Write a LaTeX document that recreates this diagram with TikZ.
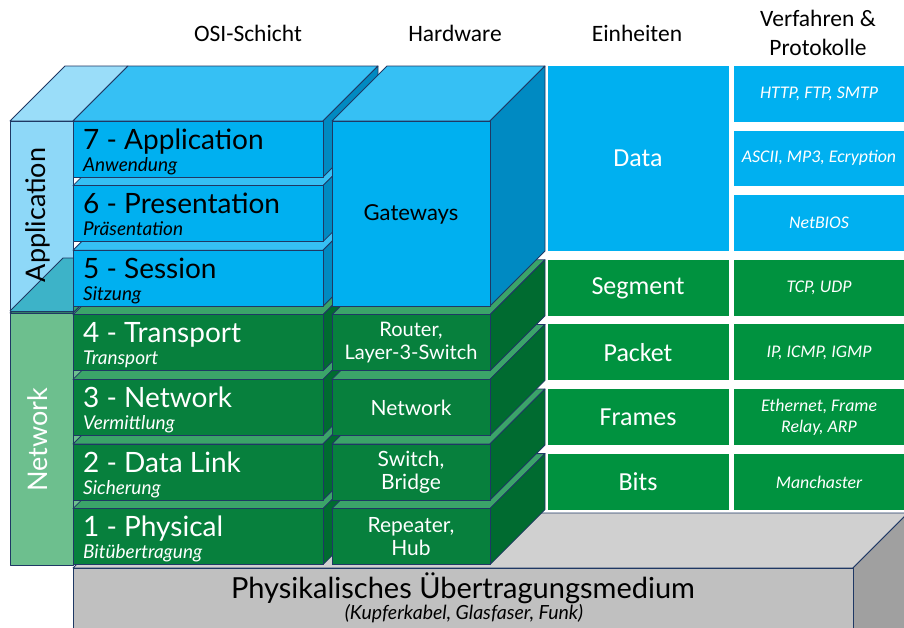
\documentclass[tikz,border=0pt]{standalone}
\usepackage{fontspec}
\setmainfont{Lato}
\newfontfamily\latofont{Lato}
\newfontfamily\carlfont{Carlito}

\definecolor{edge}{HTML}{1F3864}
\definecolor{blueF}{HTML}{00B0F0}
\definecolor{blueT}{HTML}{36C0F4}
\definecolor{blueS}{HTML}{008AC2}
\definecolor{appF}{HTML}{8ED8F8}
\definecolor{appT}{HTML}{9ADDF9}
\definecolor{teal}{HTML}{3DB3C8}
\definecolor{greenF}{HTML}{07803D}
\definecolor{greenT}{HTML}{3BA469}
\definecolor{greenS}{HTML}{006B30}
\definecolor{greenR}{HTML}{00923F}
\definecolor{netF}{HTML}{6DBF8E}
\definecolor{grayF}{HTML}{C0C0C0}
\definecolor{grayT}{HTML}{D0D0D0}
\definecolor{grayS}{HTML}{A0A0A0}

% a box seen from the front: front face, top face and right side face
% #1 left x, #2 top y, #3 width, #4 height, #5 front, #6 top, #7 side colour
\newcommand\drawslab[7]{%
  \filldraw[face, fill=#6] (#1,#2) -- ++(55,-55) -- ++(#3,0) -- ++(-55,55) -- cycle;
  \filldraw[face, fill=#7] (#1+#3,#2) -- ++(55,-55) -- ++(0,#4) -- ++(-55,55) -- cycle;
  \filldraw[face, fill=#5] (#1,#2) rectangle ++(#3,#4);
}

\tikzset{
  face/.style={draw=edge, line width=0.8pt, line join=round},
  header/.style={font=\carlfont\fontsize{23.5}{25}\selectfont, text=black},
  unit/.style={font=\carlfont\fontsize{26}{28}\selectfont, text=white},
  proto/.style={font=\carlfont\itshape\fontsize{17.8}{20}\selectfont, text=white, align=center},
  layername/.style={anchor=base west, inner sep=0pt, font=\latofont\fontsize{28}{30}\selectfont},
  layersub/.style={anchor=base west, inner sep=0pt, font=\latofont\itshape\fontsize{19}{21}\selectfont},
  hw/.style={align=center, inner sep=0pt, font=\latofont\fontsize{21}{23}\selectfont},
  group/.style={rotate=90, inner sep=0pt, font=\latofont\fontsize{27}{29}\selectfont},
}

\begin{document}
\begin{tikzpicture}[x=1pt, y=-1pt]
\useasboundingbox (0,0) rectangle (904,627);
\clip (0,0) rectangle (904,627);
\fill[white] (0,0) rectangle (904,627);

% flat columns: units and protocols
\fill[blueF] (548,66) rectangle (729,251);
\fill[blueF] (734,66) rectangle (910,121.6);
\fill[blueF] (734,130.6) rectangle (910,186.2);
\fill[blueF] (734,195.2) rectangle (910,251);
\foreach \t in {314.8,379.4,444,508.6}{
  \fill[greenR] (548,\t-55) rectangle (729,\t+1);
  \fill[greenR] (734,\t-55) rectangle (910,\t+1);
}

% transmission medium
\drawslab{73}{568}{780}{120}{grayF}{grayT}{grayS}

% grouping boxes on the left
\drawslab{10}{313}{63}{252}{netF}{greenT}{netF}
\filldraw[face, fill=appT] (10,121) -- ++(55,-55) -- ++(63,0) -- ++(-55,55) -- cycle;
\filldraw[face, fill=appF] (10,121) rectangle (73,311);
\fill[teal] (10,311) -- (63,258) -- (73,258) -- (73,311) -- cycle;
\draw[face] (10,311) -- (63,258) -- (73,258);
\draw[face] (10,121) rectangle (73,311);

% OSI layers, bottom to top
\drawslab{73}{508.6}{250}{56}{greenF}{greenT}{greenS}
\drawslab{73}{444}{250}{56}{greenF}{greenT}{greenS}
\drawslab{73}{379.4}{250}{56}{greenF}{greenT}{greenS}
\drawslab{73}{314.8}{250}{56}{greenF}{greenT}{greenS}
\drawslab{73}{250.2}{250}{56}{blueF}{blueT}{blueS}
\drawslab{73}{185.6}{250}{56}{blueF}{blueT}{blueS}
\drawslab{73}{121}{250}{56}{blueF}{blueT}{blueS}

% hardware column
\drawslab{332}{508.6}{158}{56}{greenF}{greenT}{greenS}
\drawslab{332}{444}{158}{56}{greenF}{greenT}{greenS}
\drawslab{332}{379.4}{158}{56}{greenF}{greenT}{greenS}
\drawslab{332}{314.8}{158}{56}{greenF}{greenT}{greenS}
\drawslab{332}{121}{158}{185}{blueF}{blueT}{blueS}

% column headers
\node[header] (hOSI) at (248,33) {OSI-Schicht};
\node[header] (hHW) at (455,33) {Hardware};
\node[header] (hUnit) at (637,33) {Einheiten};
\node[header, align=center, font=\carlfont\fontsize{23.5}{29}\selectfont] (hProto) at (818,33) {Verfahren \&\\Protokolle};

% group labels
\node[group, text=black] (gApp) at (38,215) {Application};
\node[group, text=white] (gNet) at (38,440) {Network};

% layer names
\node[layername, text=black] (l7) at (83,149) {7 - Application};
\node[layersub, text=black] (s7) at (83,171) {Anwendung};
\node[layername, text=black] (l6) at (83,213.6) {6 - Presentation};
\node[layersub, text=black] (s6) at (83,235.6) {Präsentation};
\node[layername, text=black] (l5) at (83,278.2) {5 - Session};
\node[layersub, text=black] (s5) at (83,300.2) {Sitzung};
\node[layername, text=white] (l4) at (83,342.8) {4 - Transport};
\node[layersub, text=white] (s4) at (83,364.8) {Transport};
\node[layername, text=white] (l3) at (83,407.4) {3 - Network};
\node[layersub, text=white] (s3) at (83,429.4) {Vermittlung};
\node[layername, text=white] (l2) at (83,472) {2 - Data Link};
\node[layersub, text=white] (s2) at (83,494) {Sicherung};
\node[layername, text=white] (l1) at (83,536.6) {1 - Physical};
\node[layersub, text=white] (s1) at (83,558.6) {Bitübertragung};

% hardware
\node[hw, text=black, font=\latofont\fontsize{22}{23}\selectfont] (hw7) at (411,214) {Gateways};
\node[hw, text=white, font=\latofont\fontsize{20}{23}\selectfont] (hw4) at (411,343) {Router,\\Layer-3-Switch};
\node[hw, text=white] (hw3) at (411,408) {Network};
\node[hw, text=white] (hw2) at (411,472.5) {Switch,\\Bridge};
\node[hw, text=white] (hw1) at (411,537) {Repeater,\\Hub};

% units
\node[unit] (uData) at (638,158) {Data};
\node[unit] (uSeg) at (638,288) {Segment};
\node[unit] (uPkt) at (638,352.5) {Packet};
\node[unit] (uFrm) at (638,417) {Frames};
\node[unit] (uBit) at (638,482) {Bits};

% protocols
\node[proto] (p7) at (819,93.5) {HTTP, FTP, SMTP};
\node[proto] (p6) at (819,158) {ASCII, MP3, Ecryption};
\node[proto] (p5) at (819,223) {NetBIOS};
\node[proto] (p4) at (819,288) {TCP, UDP};
\node[proto] (p3) at (819,352.5) {IP, ICMP, IGMP};
\node[proto, font=\carlfont\itshape\fontsize{17.8}{21}\selectfont] (p2) at (819,417) {Ethernet, Frame\\Relay, ARP};
\node[proto] (p1) at (819,482) {Manchaster};

% medium
\node[anchor=base, inner sep=0pt, font=\latofont\fontsize{29}{31}\selectfont] (med) at (463,598) {Physikalisches Übertragungsmedium};
\node[anchor=base, inner sep=0pt, font=\latofont\itshape\fontsize{19.5}{21}\selectfont] (medsub) at (464,619) {(Kupferkabel, Glasfaser, Funk)};
\end{tikzpicture}
\end{document}
